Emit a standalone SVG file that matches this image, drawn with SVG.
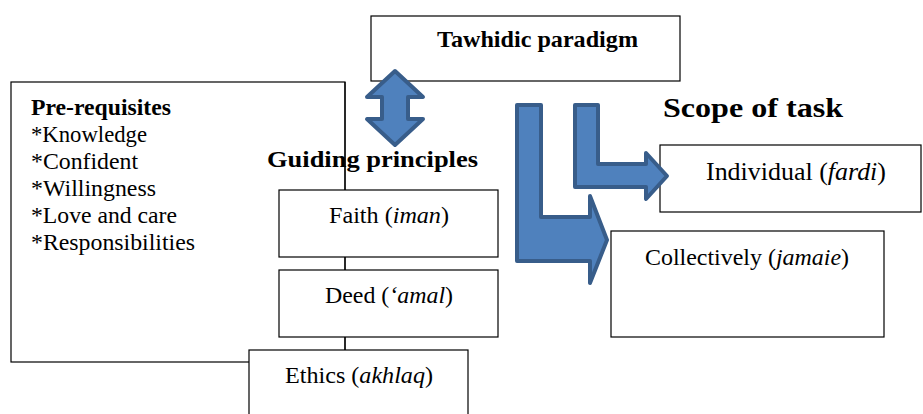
<svg xmlns="http://www.w3.org/2000/svg" width="923" height="414" viewBox="0 0 923 414">
<style>
.box{fill:#fff;stroke:#000;stroke-width:1.2}
.frame{fill:none;stroke:#000;stroke-width:1.2}
.b{font-weight:bold}
.i{font-style:italic}
.arr{fill:#4F81BD;stroke:#385D8A;stroke-width:4;stroke-linejoin:round}
</style>
<g font-family="Liberation Serif, Times New Roman, serif" font-size="24" fill="#000">
<g id="prerequisites">
<rect class="frame" x="11" y="82" width="334" height="280"/>
<text class="b" x="31" y="115" textLength="140" lengthAdjust="spacingAndGlyphs">Pre-requisites</text>
<text x="31" y="142" textLength="116" lengthAdjust="spacingAndGlyphs">*Knowledge</text>
<text x="31" y="169" textLength="107" lengthAdjust="spacingAndGlyphs">*Confident</text>
<text x="31" y="196" textLength="125" lengthAdjust="spacingAndGlyphs">*Willingness</text>
<text x="31" y="223" textLength="146" lengthAdjust="spacingAndGlyphs">*Love and care</text>
<text x="31" y="250" textLength="164" lengthAdjust="spacingAndGlyphs">*Responsibilities</text>
</g>
<g id="tawhidic">
<rect class="box" x="371" y="16" width="309" height="65"/>
<text class="b" font-size="23.5" x="437" y="47" textLength="201" lengthAdjust="spacingAndGlyphs">Tawhidic paradigm</text>
</g>
<g id="guiding-title">
<text class="b" x="267" y="167" textLength="211" lengthAdjust="spacingAndGlyphs">Guiding principles</text>
</g>
<g id="scope-title">
<text class="b" font-size="28" x="663" y="117" textLength="180" lengthAdjust="spacingAndGlyphs">Scope of task</text>
</g>
<g id="faith">
<rect class="box" x="279" y="190" width="219" height="67"/>
<text x="329" y="223" textLength="120" lengthAdjust="spacingAndGlyphs">Faith (<tspan class="i">iman</tspan>)</text>
</g>
<g id="deed">
<rect class="box" x="279" y="270" width="219" height="67"/>
<text x="325" y="303" textLength="128" lengthAdjust="spacingAndGlyphs">Deed (<tspan class="i">‘amal</tspan>)</text>
</g>
<g id="ethics">
<rect class="box" x="249" y="350" width="219" height="80"/>
<text x="285" y="383" textLength="148" lengthAdjust="spacingAndGlyphs">Ethics (<tspan class="i">akhlaq</tspan>)</text>
</g>
<g id="individual">
<rect class="box" x="660" y="145" width="261" height="67"/>
<text font-size="25" x="706" y="180" textLength="180" lengthAdjust="spacingAndGlyphs">Individual (<tspan class="i">fardi</tspan>)</text>
</g>
<g id="collectively">
<rect class="box" x="611" y="231" width="273" height="106"/>
<text x="645" y="265" textLength="204" lengthAdjust="spacingAndGlyphs">Collectively (<tspan class="i">jamaie</tspan>)</text>
</g>
</g>
<g id="connectors">
<line x1="345" y1="82" x2="345" y2="190" stroke="#000" stroke-width="1.2"/>
<line x1="345" y1="257" x2="345" y2="270" stroke="#000" stroke-width="1.2"/>
<line x1="345" y1="337" x2="345" y2="350" stroke="#000" stroke-width="1.2"/>
<path class="arr" d="M395,71 L423,97 L408,97 L408,119 L423,119 L395,145 L367,119 L382,119 L382,97 L367,97 Z"/>
<path class="arr" d="M517,105 L541,105 L541,217 L590,217 L590,196 L607,240 L590,283 L590,261 L517,261 Z"/>
<path class="arr" d="M575,105 L598,105 L598,164 L646,164 L646,153 L667,176 L646,199 L646,187 L575,187 Z"/>
</g>
</svg>
